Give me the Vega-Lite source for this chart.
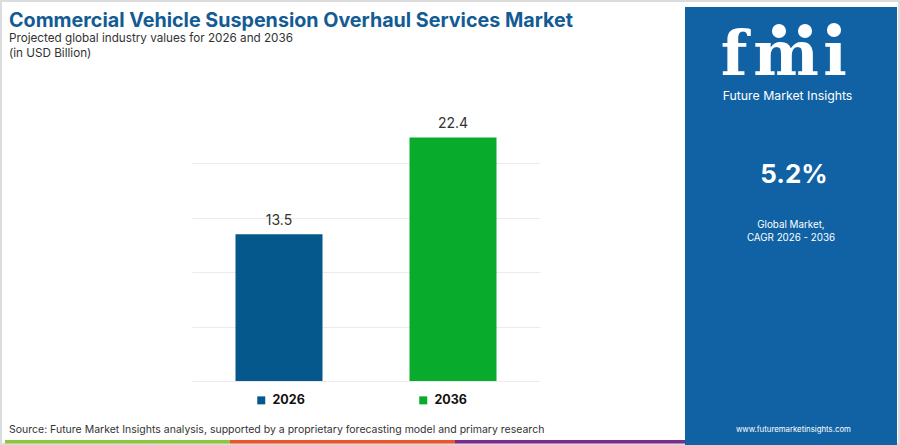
{
  "$schema": "https://vega.github.io/schema/vega-lite/v6.json",
  "width": 348,
  "height": 261,
  "autosize": {"type": "none"},
  "padding": {"left": 192, "top": 120, "right": 360, "bottom": 64},
  "background": "#ffffff",
  "config": {"view": {"stroke": null}, "font": "Inter"},
  "data": {"values": [{"year": "2026", "value": 13.5}, {"year": "2036", "value": 22.4}]},
  "layer": [
    {"data": {"values": [{}]}, "mark": {"type": "rect", "x": -191, "x2": 707, "y": -119, "y2": 324, "fill": null, "stroke": "#dcdcdc", "strokeWidth": 2}, "encoding": {}},
    {"data": {"values": [{}]}, "mark": {"type": "rect", "x": 493, "x2": 705, "y": -113, "y2": 325, "fill": "#1062a4"}, "encoding": {}},
    {"data": {"values": [{}]}, "mark": {"type": "rule", "x": -192, "x2": 493, "y": -25, "stroke": "#1f6dab", "strokeWidth": 3.5}, "encoding": {}},
    {"data": {"values": [{}]}, "mark": {"type": "text", "text": "Commercial Vehicle Suspension Overhaul Services Market", "x": -183, "y": -93, "align": "left", "baseline": "alphabetic", "fontSize": 19.7, "fontWeight": "bold", "color": "#135b94"}, "encoding": {}},
    {"data": {"values": [{}]}, "mark": {"type": "text", "text": "Projected global industry values for 2026 and 2036", "x": -183, "y": -78.3, "align": "left", "baseline": "alphabetic", "fontSize": 11.7, "color": "#333333"}, "encoding": {}},
    {"data": {"values": [{}]}, "mark": {"type": "text", "text": "(in USD Billion)", "x": -183, "y": -63.3, "align": "left", "baseline": "alphabetic", "fontSize": 11.7, "color": "#333333"}, "encoding": {}},
    {"data": {"values": [{}]}, "mark": {"type": "text", "text": "Source: Future Market Insights analysis, supported by a proprietary forecasting model and primary research", "x": -183, "y": 313, "align": "left", "baseline": "alphabetic", "fontSize": 10.5, "color": "#333333"}, "encoding": {}},
    {"data": {"values": [{}]}, "mark": {"type": "rect", "x": -187, "x2": 38, "y": 320, "y2": 323.5, "fill": "#8cc63f"}, "encoding": {}},
    {"data": {"values": [{}]}, "mark": {"type": "rect", "x": 38, "x2": 263, "y": 320, "y2": 323.5, "fill": "#e8562a"}, "encoding": {}},
    {"data": {"values": [{}]}, "mark": {"type": "rect", "x": 263, "x2": 493, "y": 320, "y2": 323.5, "fill": "#7b2d8e"}, "encoding": {}},
    {"data": {"values": [{}]}, "mark": {"type": "text", "text": "f", "x": 542, "y": -45, "align": "center", "baseline": "alphabetic", "font": "DejaVu Serif", "fontSize": 62, "fontWeight": "bold", "color": "#ffffff"}, "encoding": {}},
    {"data": {"values": [{}]}, "mark": {"type": "text", "text": "m", "x": 594, "y": -45, "align": "center", "baseline": "alphabetic", "font": "DejaVu Serif", "fontSize": 62, "fontWeight": "bold", "color": "#ffffff"}, "encoding": {}},
    {"data": {"values": [{}]}, "mark": {"type": "text", "text": "ı", "x": 643, "y": -45, "align": "center", "baseline": "alphabetic", "font": "DejaVu Serif", "fontSize": 62, "fontWeight": "bold", "color": "#ffffff"}, "encoding": {}},
    {"data": {"values": [{}]}, "mark": {"type": "rule", "x": 523, "x2": 562, "y": -87, "stroke": "#1062a4", "strokeWidth": 1.3}, "encoding": {}},
    {"data": {"values": [{}]}, "mark": {"type": "rule", "x": 523, "x2": 562, "y": -81, "stroke": "#1062a4", "strokeWidth": 1.3}, "encoding": {}},
    {"data": {"values": [{}]}, "mark": {"type": "rule", "x": 520, "x2": 662, "y": -75, "stroke": "#1062a4", "strokeWidth": 1.3}, "encoding": {}},
    {"data": {"values": [{}]}, "mark": {"type": "rule", "x": 520, "x2": 662, "y": -69, "stroke": "#1062a4", "strokeWidth": 1.3}, "encoding": {}},
    {"data": {"values": [{}]}, "mark": {"type": "rule", "x": 520, "x2": 662, "y": -63, "stroke": "#1062a4", "strokeWidth": 1.3}, "encoding": {}},
    {"data": {"values": [{}]}, "mark": {"type": "rule", "x": 520, "x2": 662, "y": -57, "stroke": "#1062a4", "strokeWidth": 1.3}, "encoding": {}},
    {"data": {"values": [{}]}, "mark": {"type": "rule", "x": 520, "x2": 662, "y": -51, "stroke": "#1062a4", "strokeWidth": 1.3}, "encoding": {}},
    {"data": {"values": [{}]}, "mark": {"type": "point", "shape": "circle", "filled": true, "x": 587, "y": -89, "size": 200, "color": "#ffffff", "opacity": 1}, "encoding": {}},
    {"data": {"values": [{}]}, "mark": {"type": "point", "shape": "circle", "filled": true, "x": 613, "y": -89, "size": 200, "color": "#ffffff", "opacity": 1}, "encoding": {}},
    {"data": {"values": [{}]}, "mark": {"type": "point", "shape": "circle", "filled": true, "x": 642, "y": -90, "size": 200, "color": "#ffffff", "opacity": 1}, "encoding": {}},
    {"data": {"values": [{}]}, "mark": {"type": "text", "text": "Future Market Insights", "x": 595.5, "y": -20, "align": "center", "baseline": "alphabetic", "fontSize": 12.3, "color": "#ffffff"}, "encoding": {}},
    {"data": {"values": [{}]}, "mark": {"type": "text", "text": "5.2%", "x": 602, "y": 63.3, "align": "center", "baseline": "alphabetic", "fontSize": 26, "fontWeight": "bold", "color": "#ffffff"}, "encoding": {}},
    {"data": {"values": [{}]}, "mark": {"type": "rule", "x": 512, "x2": 692, "y": 87.7, "stroke": "#d6e6f3", "strokeWidth": 2}, "encoding": {}},
    {"data": {"values": [{}]}, "mark": {"type": "text", "text": "Global Market,", "x": 599, "y": 108.3, "align": "center", "baseline": "alphabetic", "fontSize": 9.8, "color": "#ffffff"}, "encoding": {}},
    {"data": {"values": [{}]}, "mark": {"type": "text", "text": "CAGR 2026 - 2036", "x": 599, "y": 121, "align": "center", "baseline": "alphabetic", "fontSize": 9.8, "color": "#ffffff"}, "encoding": {}},
    {"data": {"values": [{}]}, "mark": {"type": "text", "text": "www.futuremarketinsights.com", "x": 601.4, "y": 311.7, "align": "center", "baseline": "alphabetic", "fontSize": 7.8, "color": "#ffffff"}, "encoding": {}},
    {
      "mark": {"type": "bar"},
      "encoding": {
        "x": {"field": "year", "type": "nominal", "scale": {"paddingInner": 0.5, "paddingOuter": 0.25}, "axis": null},
        "y": {"field": "value", "type": "quantitative", "scale": {"domain": [0, 24], "nice": false, "zero": true},
          "axis": {"values": [0, 5, 10, 15, 20], "grid": true, "gridColor": "#ebebeb", "gridWidth": 1, "labels": false, "ticks": false, "domain": false, "title": null}},
        "color": {"field": "year", "type": "nominal", "scale": {"domain": ["2026", "2036"], "range": ["#04588c", "#09ab2d"]},
          "legend": {"orient": "none", "legendX": 63, "legendY": 274, "direction": "horizontal", "title": null, "symbolType": "square", "symbolSize": 64, "symbolStrokeWidth": 0, "symbolOpacity": 1, "labelFont": "Inter", "labelFontSize": 12.5, "labelFontWeight": "bold", "labelColor": "#111111", "labelOffset": 5, "columnPadding": 112}}
      }
    },
    {
      "mark": {"type": "text", "baseline": "middle", "dy": -13, "fontSize": 14, "color": "#333333"},
      "encoding": {
        "x": {"field": "year", "type": "nominal"},
        "y": {"field": "value", "type": "quantitative"},
        "text": {"field": "value", "type": "quantitative", "format": ".1f"}
      }
    }
  ]
}
